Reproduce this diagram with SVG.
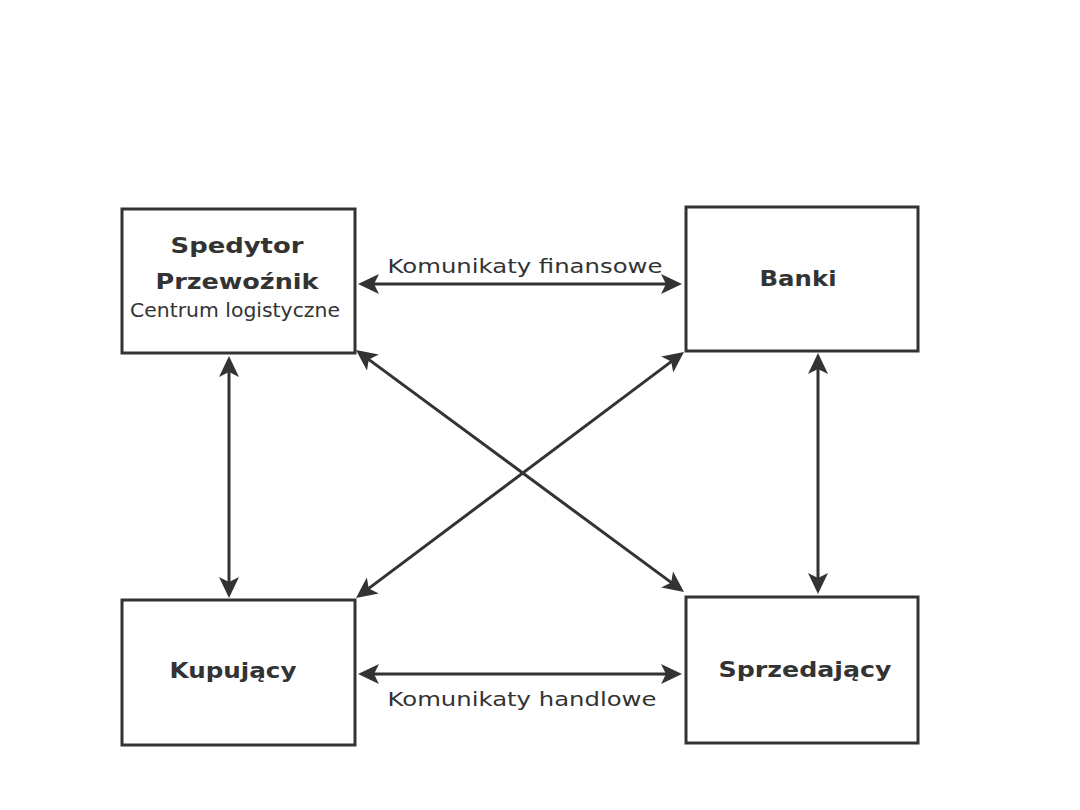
<svg xmlns="http://www.w3.org/2000/svg" width="1080" height="810" viewBox="0 0 1080 810">
<style>
.box{fill:#fff;stroke:#333;stroke-width:3}
.b{font-family:"DejaVu Sans","Liberation Sans",sans-serif;font-weight:bold;font-size:22px;fill:#333;text-anchor:middle}
.n{font-family:"DejaVu Sans","Liberation Sans",sans-serif;font-size:19px;fill:#333;text-anchor:middle}
.c line{stroke:#333;stroke-width:3;marker-start:url(#ah);marker-end:url(#ah)}
</style>
<defs>
<marker id="ah" markerUnits="userSpaceOnUse" markerWidth="24" markerHeight="22" refX="15" refY="10" orient="auto-start-reverse" viewBox="0 0 24 22">
<path d="M0,0 L21,10 L0,20 L5,10 z" fill="#333"/>
</marker>
</defs>
<rect width="1080" height="810" fill="#fff"/>
<g id="spedytor">
<rect class="box" x="122" y="209" width="233" height="144"/>
<text class="b" x="237" y="253" textLength="133" lengthAdjust="spacingAndGlyphs">Spedytor</text>
<text class="b" x="237" y="289" textLength="163" lengthAdjust="spacingAndGlyphs">Przewoźnik</text>
<text class="n" x="235" y="317" textLength="210" lengthAdjust="spacingAndGlyphs">Centrum logistyczne</text>
</g>
<g id="banki">
<rect class="box" x="686" y="207" width="232" height="144"/>
<text class="b" x="798" y="286" textLength="77" lengthAdjust="spacingAndGlyphs">Banki</text>
</g>
<g id="kupujacy">
<rect class="box" x="122" y="600" width="233" height="145"/>
<text class="b" x="233" y="678" textLength="127" lengthAdjust="spacingAndGlyphs">Kupujący</text>
</g>
<g id="sprzedajacy">
<rect class="box" x="686" y="597" width="232" height="146"/>
<text class="b" x="805" y="677" textLength="173" lengthAdjust="spacingAndGlyphs">Sprzedający</text>
</g>
<g id="connectors" class="c">
<line x1="364" y1="284" x2="676" y2="284"/>
<line x1="364" y1="674" x2="676" y2="674"/>
<line x1="229" y1="362" x2="229" y2="592"/>
<line x1="818" y1="359" x2="818" y2="588"/>
<line x1="360.8" y1="353.6" x2="679.2" y2="588.4"/>
<line x1="679.2" y1="355.6" x2="360.8" y2="594.4"/>
</g>
<g id="labels">
<text class="n" x="525" y="273" textLength="275" lengthAdjust="spacingAndGlyphs">Komunikaty finansowe</text>
<text class="n" x="522" y="706" textLength="269" lengthAdjust="spacingAndGlyphs">Komunikaty handlowe</text>
</g>
</svg>
